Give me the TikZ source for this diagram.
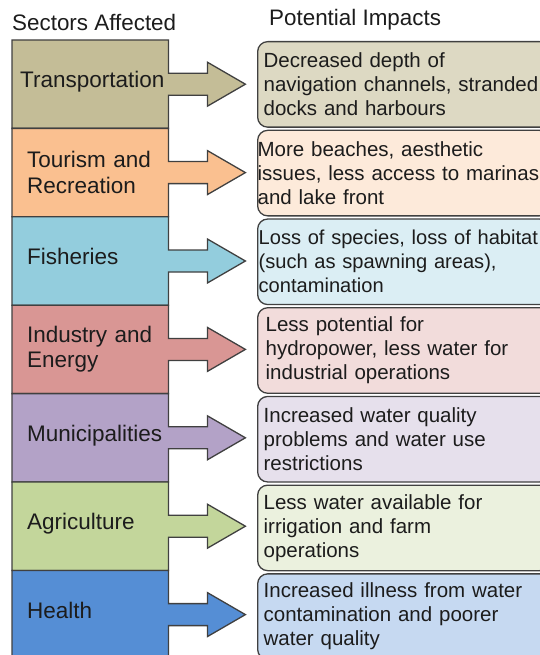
\documentclass[tikz,border=0pt]{standalone}
\usepackage{fontspec}
\setmainfont{Liberation Sans}
\usetikzlibrary{positioning, backgrounds}
\hyphenpenalty=10000

\definecolor{transC}{HTML}{C4BD97}
\definecolor{transL}{HTML}{DDD9C3}
\definecolor{tourC}{HTML}{FAC090}
\definecolor{tourL}{HTML}{FDEADA}
\definecolor{fishC}{HTML}{93CDDD}
\definecolor{fishL}{HTML}{DBEEF4}
\definecolor{indusC}{HTML}{D99694}
\definecolor{indusL}{HTML}{F2DCDB}
\definecolor{municC}{HTML}{B3A2C7}
\definecolor{municL}{HTML}{E6E0EC}
\definecolor{agriC}{HTML}{C3D69B}
\definecolor{agriL}{HTML}{EBF1DE}
\definecolor{healthC}{HTML}{558ED5}
\definecolor{healthL}{HTML}{C6D9F1}
\definecolor{edge}{HTML}{404040}
\definecolor{ink}{HTML}{1C1C1C}

% sector block with its block arrow: #1 node, #2 fill
\newcommand{\sectorshape}[2]{%
  \draw[outline, fill=#2] (#1.north west) -- (#1.north east)
    -- ([yshift=11pt]#1.east) -- ([shift={(39pt,11pt)}]#1.east)
    -- ([shift={(39pt,22pt)}]#1.east) -- ([xshift=77pt]#1.east)
    -- ([shift={(39pt,-22pt)}]#1.east) -- ([shift={(39pt,-11pt)}]#1.east)
    -- ([yshift=-11pt]#1.east) -- (#1.south east) -- (#1.south west) -- cycle;}

\begin{document}
\begin{tikzpicture}[x=1pt, y=-1pt, text=ink,
    outline/.style={draw=edge, line width=1.3pt, line join=miter},
    header/.style={anchor=west, inner sep=0pt, font=\fontsize{22.4}{24}\selectfont},
    sector/.style={anchor=north west, minimum width=156pt, minimum height=88pt,
      text width=126pt, inner xsep=15pt, align=left,
      font=\fontsize{22.5}{25.5}\selectfont},
    oneline/.style={text height=16pt, text depth=9pt},
    impact/.style={outline, rounded corners=10pt, minimum height=85.5pt,
      text width=280pt, inner xsep=6pt, align=left,
      font=\fontsize{20.5}{24}\selectfont}]
  \useasboundingbox (0,0) rectangle (539,655);

  \node[header] (sectorhead) at (12,22) {Sectors Affected};
  \node[header] (impacthead) at (269,20) {Potential Impacts};

  \node[sector, oneline] (trans) at (12,40) {\hspace*{-7pt}Transportation};
  \node[sector, below=0pt of trans] (tour) {Tourism and\\Recreation};
  \node[sector, oneline, below=0pt of tour] (fish) {Fisheries};
  \node[sector, below=0pt of fish] (indus) {Industry and\\Energy};
  \node[sector, oneline, below=0pt of indus] (munic) {Municipalities};
  \node[sector, oneline, below=0pt of munic] (agri) {Agriculture};
  \node[sector, oneline, below=0pt of agri] (health) {Health};

  \begin{scope}[on background layer]
    \sectorshape{trans}{transC}
    \sectorshape{tour}{tourC}
    \sectorshape{fish}{fishC}
    \sectorshape{indus}{indusC}
    \sectorshape{munic}{municC}
    \sectorshape{agri}{agriC}
    \sectorshape{health}{healthC}
  \end{scope}

  \node[impact, fill=transL, anchor=north west] (transimp) at (257,41)
    {Decreased depth of\\navigation channels, stranded\\docks and harbours};
  \node[impact, fill=tourL, inner xsep=0pt, text width=292pt, below=1.9pt of transimp] (tourimp)
    {More beaches, aesthetic\\issues, less access to marinas\\and lake front};
  \node[impact, fill=fishL, inner xsep=1pt, text width=290pt, below=1.9pt of tourimp,
    font=\fontsize{20.1}{24}\selectfont] (fishimp)
    {Loss of species, loss of habitat\\(such as spawning areas),\\contamination};
  \node[impact, fill=indusL, inner xsep=8pt, text width=276pt, below=1.9pt of fishimp] (indusimp)
    {Less potential for\\hydropower, less water for\\industrial operations};
  \node[impact, fill=municL, below=1.9pt of indusimp] (municimp)
    {Increased water quality\\problems and water use\\restrictions};
  \node[impact, fill=agriL, below=1.9pt of municimp] (agriimp)
    {Less water available for\\irrigation and farm\\operations};
  \node[impact, fill=healthL, below=1.9pt of agriimp] (healthimp)
    {Increased illness from water\\contamination and poorer\\water quality};
\end{tikzpicture}
\end{document}
